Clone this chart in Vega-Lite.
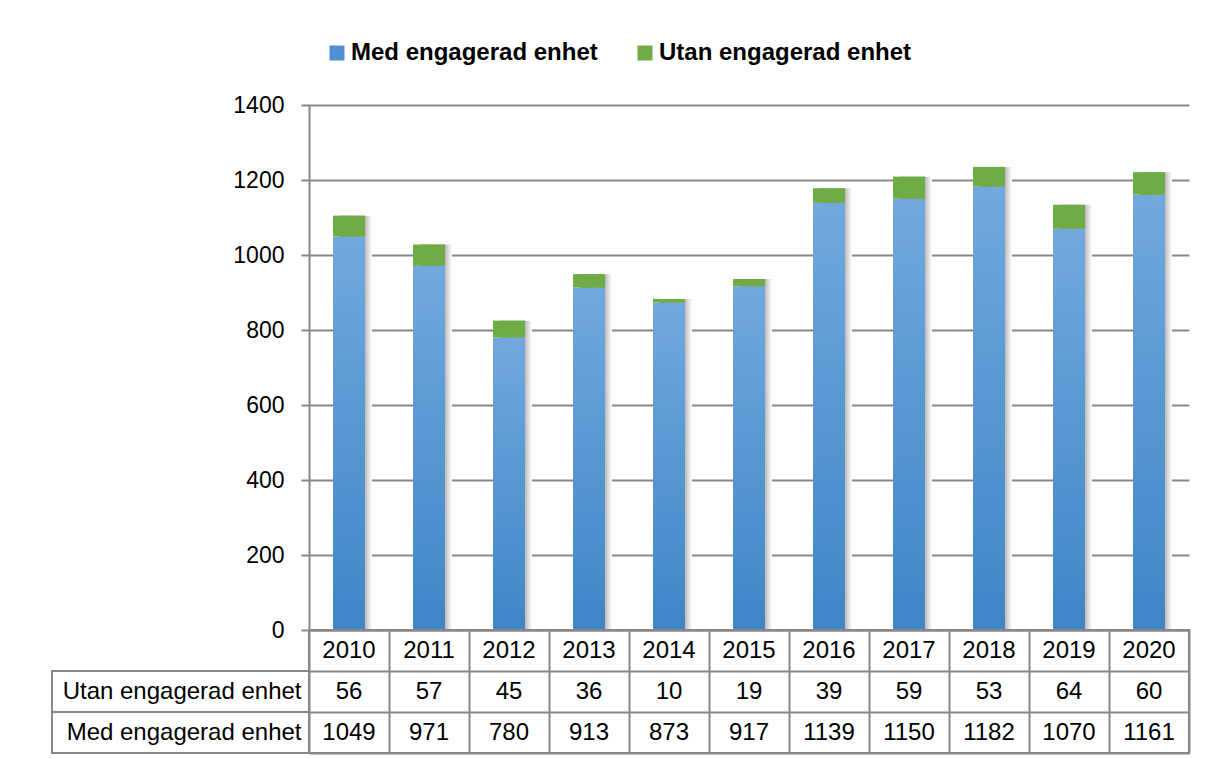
{
  "$schema": "https://vega.github.io/schema/vega-lite/v6.json",
  "autosize": {"type": "pad"},
  "padding": {"left": 51, "top": 41, "right": 10, "bottom": 5},
  "background": "white",
  "config": {"view": {"stroke": null}, "font": "Liberation Sans"},
  "datasets": {
    "d": [
      {"year": "2010", "series": "Med engagerad enhet", "value": 1049},
      {"year": "2011", "series": "Med engagerad enhet", "value": 971},
      {"year": "2012", "series": "Med engagerad enhet", "value": 780},
      {"year": "2013", "series": "Med engagerad enhet", "value": 913},
      {"year": "2014", "series": "Med engagerad enhet", "value": 873},
      {"year": "2015", "series": "Med engagerad enhet", "value": 917},
      {"year": "2016", "series": "Med engagerad enhet", "value": 1139},
      {"year": "2017", "series": "Med engagerad enhet", "value": 1150},
      {"year": "2018", "series": "Med engagerad enhet", "value": 1182},
      {"year": "2019", "series": "Med engagerad enhet", "value": 1070},
      {"year": "2020", "series": "Med engagerad enhet", "value": 1161},
      {"year": "2010", "series": "Utan engagerad enhet", "value": 56},
      {"year": "2011", "series": "Utan engagerad enhet", "value": 57},
      {"year": "2012", "series": "Utan engagerad enhet", "value": 45},
      {"year": "2013", "series": "Utan engagerad enhet", "value": 36},
      {"year": "2014", "series": "Utan engagerad enhet", "value": 10},
      {"year": "2015", "series": "Utan engagerad enhet", "value": 19},
      {"year": "2016", "series": "Utan engagerad enhet", "value": 39},
      {"year": "2017", "series": "Utan engagerad enhet", "value": 59},
      {"year": "2018", "series": "Utan engagerad enhet", "value": 53},
      {"year": "2019", "series": "Utan engagerad enhet", "value": 64},
      {"year": "2020", "series": "Utan engagerad enhet", "value": 60}
    ],
    "rows": [
      {"row": "year"},
      {"row": "Utan engagerad enhet"},
      {"row": "Med engagerad enhet"}
    ]
  },
  "columns": 2,
  "spacing": 0,
  "bounds": "flush",
  "concat": [
    {
      "width": 257,
      "height": 525,
      "data": {"values": [{}]},
      "mark": {"type": "text"},
      "encoding": {"text": {"value": ""}}
    },
    {
      "width": 880,
      "height": 525,
      "data": {"name": "d"},
      "layer": [
        {
          "mark": {
            "type": "bar",
            "xOffset": 7,
            "clip": true,
            "fill": {
              "gradient": "linear", "x1": 0, "y1": 0, "x2": 1, "y2": 0,
              "stops": [
                {"offset": 0, "color": "#8f8f8f"},
                {"offset": 0.72, "color": "#a8a8a8"},
                {"offset": 1, "color": "#ffffff"}
              ]
            }
          },
          "encoding": {
            "x": {"field": "year", "type": "ordinal", "scale": {"paddingInner": 0.6, "paddingOuter": 0.3}, "axis": null},
            "y": {"aggregate": "sum", "field": "value", "type": "quantitative", "scale": {"domain": [0, 1400]}}
          }
        },
        {
          "mark": {"type": "bar"},
          "encoding": {
            "x": {"field": "year", "type": "ordinal", "scale": {"paddingInner": 0.6, "paddingOuter": 0.3}, "axis": null},
            "y": {
              "field": "value", "type": "quantitative", "stack": "zero",
              "scale": {"domain": [0, 1400]},
              "axis": {
                "title": null,
                "values": [0, 200, 400, 600, 800, 1000, 1200, 1400],
                "format": "d",
                "labelFontSize": 23,
                "labelColor": "#000000",
                "labelPadding": 17,
                "tickSize": 8,
                "tickColor": "#888888",
                "tickWidth": 2,
                "domainColor": "#888888",
                "domainWidth": 2,
                "grid": true,
                "gridColor": "#888888",
                "gridWidth": 2
              }
            },
            "order": {"field": "series", "type": "nominal", "sort": "ascending"},
            "color": {
              "field": "series", "type": "nominal",
              "scale": {"domain": ["Med engagerad enhet", "Utan engagerad enhet"], "range": ["#4f90d2", "#6fac46"]},
              "condition": {
                "test": "datum.series === 'Med engagerad enhet'",
                "value": {
                  "gradient": "linear", "x1": 0, "y1": 0, "x2": 0, "y2": 1,
                  "stops": [
                    {"offset": 0, "color": "#72a8de"},
                    {"offset": 1, "color": "#3e86c7"}
                  ]
                }
              },
              "legend": {
                "title": null,
                "orient": "none",
                "legendX": 273,
                "legendY": -64,
                "direction": "horizontal",
                "padding": 0,
                "symbolType": "square",
                "symbolSize": 225,
                "symbolStrokeWidth": 0,
                "labelFontSize": 24,
                "labelFontWeight": "bold",
                "labelColor": "#000000",
                "labelOffset": 2,
                "labelLimit": 0,
                "columnPadding": 35
              }
            }
          }
        }
      ]
    },
    {
      "width": 257,
      "height": 123,
      "data": {"name": "rows"},
      "mark": {"type": "bar", "fill": "white", "stroke": "#888888", "strokeWidth": 2},
      "encoding": {
        "y": {"field": "row", "type": "nominal", "scale": {"domain": ["year", "Utan engagerad enhet", "Med engagerad enhet"], "padding": 0}, "axis": null},
        "strokeOpacity": {"condition": {"test": "datum.row === 'year'", "value": 0}, "value": 1},
        "fillOpacity": {"condition": {"test": "datum.row === 'year'", "value": 0}, "value": 1}
      }
    },
    {
      "width": 880,
      "height": 123,
      "view": {"stroke": "#888888", "strokeWidth": 2},
      "data": {"name": "d"},
      "layer": [
        {
          "transform": [{"filter": "datum.series === 'Med engagerad enhet'"}],
          "mark": {"type": "text", "fontSize": 24, "color": "#000000"},
          "encoding": {
            "x": {
              "field": "year", "type": "ordinal", "scale": {"paddingInner": 0, "paddingOuter": 0},
              "axis": {"title": null, "orient": "top", "labels": false, "ticks": false, "domain": false, "grid": true, "tickBand": "extent", "gridColor": "#888888", "gridWidth": 2}
            },
            "y": {
              "datum": "year", "type": "nominal",
              "scale": {"domain": ["year", "Utan engagerad enhet", "Med engagerad enhet"], "paddingInner": 0, "paddingOuter": 0},
              "axis": {
                "title": null,
                "labelExpr": "datum.value === 'year' ? '' : datum.label",
                "labelFontSize": 24,
                "labelColor": "#000000",
                "labelPadding": 8,
                "labelLimit": 0,
                "ticks": false,
                "domain": false,
                "grid": true,
                "tickBand": "extent",
                "gridColor": "#888888",
                "gridWidth": 2
              }
            },
            "text": {"field": "year"}
          }
        },
        {
          "mark": {"type": "text", "fontSize": 24, "color": "#000000"},
          "encoding": {
            "x": {"field": "year", "type": "ordinal"},
            "y": {"field": "series", "type": "nominal"},
            "text": {"field": "value", "type": "quantitative"}
          }
        }
      ]
    }
  ]
}
